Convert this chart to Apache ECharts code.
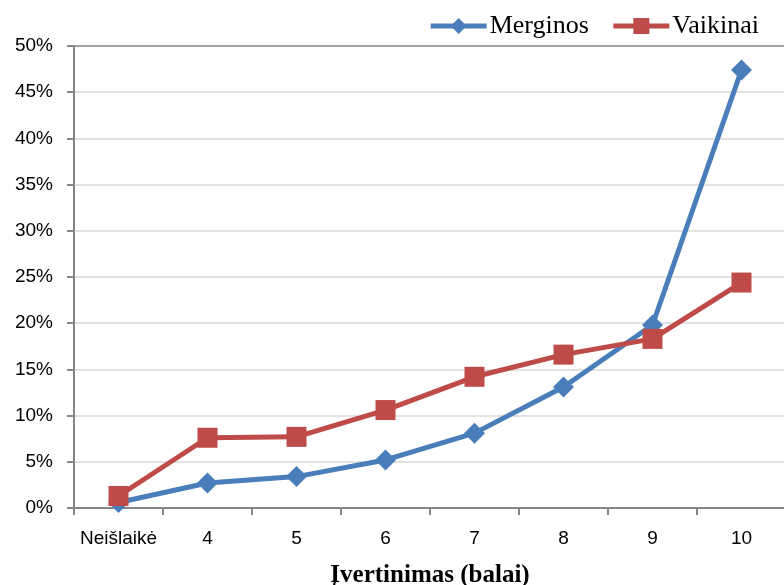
<!DOCTYPE html>
<html>
<head>
<meta charset="utf-8">
<script src="https://cdn.jsdelivr.net/npm/echarts@6/dist/echarts.min.js"></script>
<style>html,body{margin:0;padding:0;background:#fff}#c{width:784px;height:585px}</style>
</head>
<body>
<div id="c"></div>
<script>
const categories = ['Neišlaikė', '4', '5', '6', '7', '8', '9', '10'];
const merginos = [0.6, 2.7, 3.4, 5.2, 8.1, 13.1, 19.8, 47.4];
const vaikinai = [1.3, 7.6, 7.7, 10.6, 14.2, 16.6, 18.3, 24.4];
const yTicks = [0, 5, 10, 15, 20, 25, 30, 35, 40, 45, 50];

const chart = echarts.init(document.getElementById('c'));
chart.setOption({
  animation: false,
  backgroundColor: '#fff',
  grid: { left: 74, top: 46, width: 712, bottom: 77, containLabel: false, outerBoundsMode: 'none' },
  legend: {
    right: 20, top: 8,
    itemWidth: 56, itemHeight: 20, itemGap: 22,
    textStyle: { fontFamily: 'Liberation Serif', fontSize: 26, color: '#000', padding: [0, 0, 0, -2] },
    data: [
      { name: 'Merginos', itemStyle: { color: '#4a7ebb' }, lineStyle: { width: 5, color: '#4a7ebb' } },
      { name: 'Vaikinai', itemStyle: { color: '#be4b48' }, lineStyle: { width: 5, color: '#be4b48' } }
    ]
  },
  xAxis: {
    type: 'category',
    data: categories,
    boundaryGap: true,
    name: 'Įvertinimas (balai)',
    nameLocation: 'middle',
    nameGap: 55,
    nameTextStyle: { fontFamily: 'Liberation Serif', fontWeight: 'bold', fontSize: 25, color: '#000' },
    axisLine: { lineStyle: { color: '#868686', width: 2 } },
    axisTick: { show: true, inside: false, length: 7, interval: 0, lineStyle: { color: '#868686', width: 2 } },
    axisLabel: { margin: 21, interval: 0, fontFamily: 'Liberation Sans', fontSize: 19, color: '#000' },
    splitLine: { show: false }
  },
  yAxis: {
    type: 'value',
    min: 0, max: 50, interval: 5,
    axisLine: { show: true, lineStyle: { color: '#868686', width: 2 } },
    axisTick: { show: true, length: 7, lineStyle: { color: '#868686', width: 2 } },
    axisLabel: {
      margin: 21, fontFamily: 'Liberation Sans', fontSize: 19, color: '#000',
      formatter: v => yTicks.includes(v) ? v + '%' : ''
    },
    splitLine: {
      show: true,
      lineStyle: {
        color: ['#868686', '#d9d9d9', '#d9d9d9', '#d9d9d9', '#d9d9d9', '#d9d9d9', '#d9d9d9', '#d9d9d9', '#d9d9d9', '#d9d9d9', '#868686'],
        width: 1.5
      }
    }
  },
  series: [
    {
      name: 'Merginos', type: 'line', data: merginos,
      symbol: 'diamond', symbolSize: 21,
      lineStyle: { color: '#4a7ebb', width: 5 },
      itemStyle: { color: '#4a7ebb' },
      z: 2
    },
    {
      name: 'Vaikinai', type: 'line', data: vaikinai,
      symbol: 'rect', symbolSize: 20,
      lineStyle: { color: '#be4b48', width: 5 },
      itemStyle: { color: '#be4b48' },
      z: 3
    }
  ]
});
</script>
</body>
</html>
